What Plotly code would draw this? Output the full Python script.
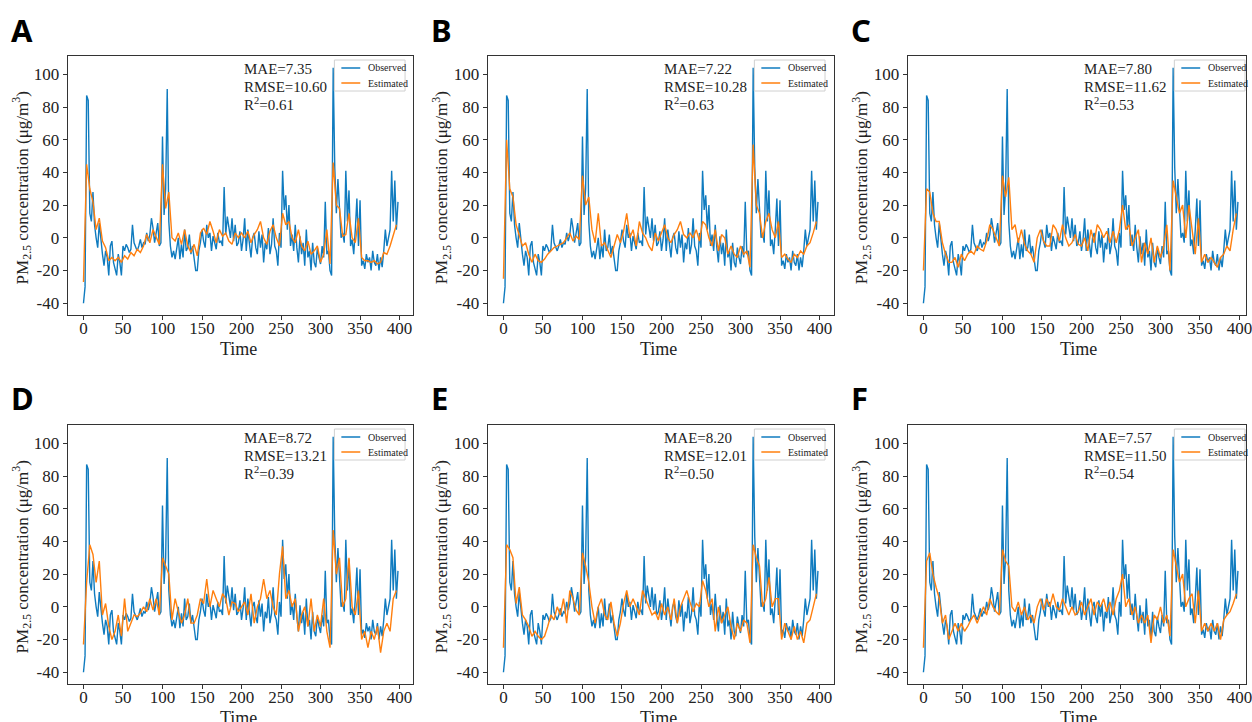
import plotly.graph_objects as go

W, H = 1252, 722

# ---------------- data ----------------
time_obs = list(range(0, 400, 2))
observed = [
    -40, -30, 87, 84, 15, 10, 28, 8, 0, -6,
    9, -3, -10, -17, -8, -12, -23, -5, -2, -15,
    -19, -23, -10, -15, -23, -5, -8, -4, -6, -9,
    -7, 8, -3, -6, -8, -5, -1, -6, -3, -4,
    3, -2, 2, 12, 6, -3, 4, 9, -5, -3,
    62, 14, 30, 91, 10, -5, -12, -8, -13, -6,
    0, -13, -4, -12, 5, -8, -6, 2, -10, -5,
    -12, -20, -20, -8, -3, 5, -2, -6, 8, 0,
    3, -8, 1, -4, -7, 3, -3, -2, -5, 31,
    2, 13, 5, 0, 12, -2, 8, -5, -3, 4,
    -8, -1, 12, -8, 5, -4, -12, 0, 3, -6,
    -10, 4, -6, 2, -15, -3, -7, 6, -10, -4,
    12, -5, -8, -17, 3, -6, 41, 17, 26, 5,
    20, -5, 2, -8, 8, -6, -15, 1, -10, -3,
    -17, 5, -12, -8, -20, -3, -15, -18, -6, -12,
    -16, -5, -12, 22, -10, -8, -20, -23, 104, 43,
    15, 36, 20, 0, 3, -3, 41, 10, 29, -5,
    -1, -10, 5, 24, -5, 23, -17, -14, -19, -10,
    -15, -12, -20, -8, -15, -17, -10, -20, -12, -18,
    -8, 5, -5, 0, 5, 41, 10, 35, 5, 22,
]

time_est = list(range(0, 400, 4))
est_A = [
    -27, 45, 30, 22, 5, 12, -2, -6, -14, -12,
    -14, -12, -15, -11, -13, -9, -11, -7, -9, -5,
    2, -3, 5, 0, -4, 45, 18, 28, 0, -2,
    3, -4, 5, -5, -9, -4, -11, 3, 6, 2,
    10, 4, -3, 5, 1, 3, -2, -4, 3, 0,
    3, 0, 4, -3, 2, 5, 10, 0, -4, 4,
    8, 0, -5, 15, 8, 10, 0, -3, 5, -5,
    -8, -2, -10, -8, -5, -15, -10, 5, -16, 46,
    20, 18, 1, 2, 15, 0, -3, 12, -12, -14,
    -14, -15, -14, -16, -15, -9, -10, -5, 2, 8,
]
est_B = [
    -25, 60, 30, 25, 8, 2, -5, -3, -10, -15,
    -10, -14, -15, -13, -10, -8, -6, -5, -4, -3,
    0, 3, -2, 1, -1, 38, 20, 25, 5, -3,
    15, -5, -3, -8, -12, -5, 2, -3, 4, 15,
    0, 5, -5, 10, 3, 0, -5, -8, 3, -2,
    3, 8, 0, -3, 2, 5, 10, 2, 0, 3,
    0, 5, -2, 10, 8, 0, -5, 5, -8, 2,
    0, -10, -5, -10, -12, -5, -10, -8, -18, 57,
    20, 15, 0, 10, 15, 5, 0, 10, -12, -10,
    -13, -15, -10, -12, -8, -10, -5, -3, 3, 10,
]
est_C = [
    -20, 30, 28, 15, 10, 10, -3, -10, -15, -15,
    -12, -18, -10, -14, -10, -8, -10, -5, -7, -8,
    -2, 8, 5, 0, -5, 38, 25, 37, 5, 8,
    -3, 5, -4, -8, -10, -15, 0, 5, -2, -5,
    -5, 8, 5, -2, 8, 0, -5, -3, 2, -4,
    -5, 0, -8, 5, -3, 8, 5, 0, 4, -3,
    4, -3, 5, 20, 5, 8, -5, 0, 5, -15,
    -3, -10, 0, -15, -5, -12, -5, 8, -20, 35,
    25, 15, 20, 0, 20, 5, -10, 12, -15, -10,
    -15, -12, -15, -18, -12, -10, -5, -8, 5, 15,
]
est_D = [
    -23, 15, 38, 32, 15, 28, -5, 2, -12, -20,
    -15, -5, -18, 5, -15, -10, -5, -6, -4, 0,
    -3, 5, -2, 5, -5, 30, 25, 20, -8, 5,
    -3, -10, -5, 5, -10, -10, -5, 5, 2, 17,
    0, 10, 5, 0, 8, 5, -5, 3, 2, -3,
    0, 3, -5, 8, -10, 0, 5, 17, 5, 10,
    0, -5, 20, 37, 5, 10, 0, 5, -15, -5,
    0, -12, 5, -15, -5, -12, 5, -15, -25, 47,
    20, 30, 0, 5, 30, 0, -5, 10, -20, -15,
    -25, -15, -20, -12, -28, -15, -10, -15, 5, 10,
]
est_E = [
    -25, 38, 35, 30, 2, 12, -5, -8, -12, -18,
    -15, -18, -20, -18, -12, -5, -8, 0, -5, 5,
    -10, 10, 5, -2, -5, 33, 25, 15, 0, -10,
    0, 5, -5, -8, 3, -10, -18, -10, 2, 10,
    0, 5, 0, -5, 10, 5, 0, -5, -3, -8,
    2, -5, 0, -8, 5, -10, 0, 5, 10, 3,
    -3, 2, 0, 16, 10, 0, 5, -15, 0, -10,
    -5, 0, -12, -20, -10, -15, -8, -10, -22, 38,
    30, 25, 0, 5, 18, 0, 5, 5, -20, -10,
    -15, -20, -12, -20, -15, -22, -10, -8, 0, 8,
]
est_F = [
    -25, 28, 33, 20, 12, 5, -10, -5, -20, -15,
    -10, -15, -10, -15, -12, -8, -5, -10, -5, 0,
    -5, 5, 0, -3, -5, 35, 28, 25, 0, -3,
    3, -5, 0, -8, -5, -10, 0, 5, -2, 5,
    0, 8, 0, -2, 5, 0, -5, 0, -5, -3,
    3, -5, 0, 5, -5, 3, 0, 5, -3, 3,
    -5, 5, 10, 20, 0, 5, -5, 0, -10, -5,
    -10, -5, -22, -5, -8, 0, -10, -5, -18, 35,
    25, 15, 20, 0, 5, 8, -10, 10, -15, -10,
    -15, -10, -15, -10, -20, -8, -5, -3, 2, 8,
]
estimates = [est_A, est_B, est_C, est_D, est_E, est_F]

panel_letters = ["A", "B", "C", "D", "E", "F"]
mae_vals = ["7.35", "7.22", "7.80", "8.72", "8.20", "7.57"]
rmse_vals = ["10.60", "10.28", "11.62", "13.21", "12.01", "11.50"]
r2_vals = ["0.61", "0.63", "0.53", "0.39", "0.50", "0.54"]
series_names = ["Observed", "Estimated"]

y_tick_vals = [-40, -20, 0, 20, 40, 60, 80, 100]
y_tick_text = ["-40", "-20", "0", "20", "40", "60", "80", "100"]
x_tick_vals = [0, 50, 100, 150, 200, 250, 300, 350, 400]
x_tick_text = ["0", "50", "100", "150", "200", "250", "300", "350", "400"]

# ---------------- styling / layout ----------------
BLUE = "#0f7bbf"
ORANGE = "#ff7f0e"
SERIF = "Liberation Serif"
TXT = "#222222"

col_left = [68, 490, 912]
col_right = [415, 838, 1252]
row_top = [56, 425]
row_bot = [315, 684]
PX_PER_UNIT = 0.794
Y_RANGE = [-47.2, 111.2]


def fx(p):
    return p / W


def fy(p):
    return 1 - p / H


fig = go.Figure()
annotations = []
shapes = []

for i in range(6):
    r, c = divmod(i, 3)
    L, R = col_left[c], col_right[c]
    T, B = row_top[r], row_bot[r]
    sfx = "" if i == 0 else str(i + 1)
    xa, ya = "x" + sfx, "y" + sfx

    fig.add_trace(go.Scatter(x=time_obs, y=observed, mode="lines",
                             line=dict(color=BLUE, width=1.4),
                             xaxis=xa, yaxis=ya, showlegend=False,
                             name=series_names[0]))
    fig.add_trace(go.Scatter(x=time_est, y=estimates[i], mode="lines",
                             line=dict(color=ORANGE, width=1.4),
                             xaxis=xa, yaxis=ya, showlegend=False,
                             name=series_names[1]))

    x_lo = -20
    x_hi = x_lo + (R - L) / PX_PER_UNIT
    common = dict(showline=True, mirror=True, linecolor="#333333", linewidth=1,
                  ticks="outside", ticklen=4, tickcolor="#333333",
                  showgrid=False, zeroline=False,
                  tickfont=dict(family=SERIF, size=17, color=TXT))
    fig.update_layout(**{
        "xaxis" + sfx: dict(domain=[fx(L), min(fx(R), 1.0)], range=[x_lo, x_hi],
                            anchor=ya, tickvals=x_tick_vals, ticktext=x_tick_text,
                            ticklabelstandoff=-6, ticklabeloverflow="allow", **common),
        "yaxis" + sfx: dict(domain=[fy(B), fy(T)], range=Y_RANGE, anchor=xa,
                            tickvals=y_tick_vals, ticktext=y_tick_text, **common),
    })

    # panel letter
    annotations.append(dict(text="<b>%s</b>" % panel_letters[i], x=fx(L - 59),
                            y=fy(T - 26 if r == 0 else T - 27), xref="paper", yref="paper",
                            xanchor="left", yanchor="middle", showarrow=False,
                            font=dict(family="Noto Sans", size=31, color="#000000")))
    # axis titles
    annotations.append(dict(text="PM<sub>2.5</sub> concentration (μg/m<sup>3</sup>)",
                            x=fx(L - 46), y=fy((T + B) / 2 + 2), xref="paper", yref="paper",
                            xanchor="center", yanchor="middle", textangle=-90,
                            showarrow=False, font=dict(family=SERIF, size=17, color=TXT)))
    annotations.append(dict(text="Time", x=fx(L + 172), y=fy(B + 34),
                            xref="paper", yref="paper", xanchor="center", yanchor="middle",
                            showarrow=False, font=dict(family=SERIF, size=18, color=TXT)))
    # statistics
    stats = ["MAE=" + mae_vals[i], "RMSE=" + rmse_vals[i], "R<sup>2</sup>=" + r2_vals[i]]
    for k, s in enumerate(stats):
        annotations.append(dict(text=s, x=fx(L + 175), y=fy(T + 13 + 17.5 * k),
                                xref="paper", yref="paper", xanchor="left", yanchor="middle",
                                showarrow=False, font=dict(family=SERIF, size=15, color=TXT)))
    # legend box
    shapes.append(dict(type="rect", xref="paper", yref="paper",
                       x0=fx(L + 268), x1=fx(L + 339), y0=fy(T + 4), y1=fy(T + 35),
                       line=dict(color="#d0d0d0", width=1), fillcolor="rgba(255,255,255,0.85)",
                       layer="above"))
    for k, col in enumerate([BLUE, ORANGE]):
        yy = fy(T + 12 + 15 * k)
        shapes.append(dict(type="line", xref="paper", yref="paper",
                           x0=fx(L + 275), x1=fx(L + 294), y0=yy, y1=yy,
                           line=dict(color=col, width=1.5), layer="above"))
        annotations.append(dict(text=series_names[k], x=fx(L + 300), y=yy,
                                xref="paper", yref="paper", xanchor="left", yanchor="middle",
                                showarrow=False, font=dict(family=SERIF, size=10, color=TXT)))

fig.update_layout(width=W, height=H, margin=dict(l=0, r=0, t=0, b=0),
                  paper_bgcolor="white", plot_bgcolor="white",
                  annotations=annotations, shapes=shapes, showlegend=False)

fig.write_html("out.html", config={"displayModeBar": False},
               post_script="document.body.style.margin='0';"
                           "document.body.style.overflow='hidden';")
